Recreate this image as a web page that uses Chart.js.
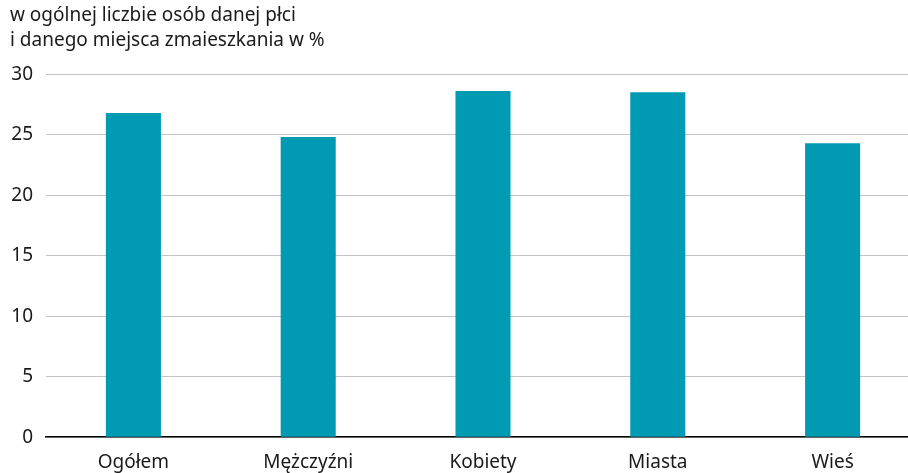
<!DOCTYPE html>
<html>
<head>
<meta charset="utf-8">
<script src="https://cdn.jsdelivr.net/npm/chart.js@4"></script>
<style>
  html, body { margin: 0; padding: 0; background: #fff; overflow: hidden; }
  #wrap { width: 922px; height: 473px; }
</style>
</head>
<body>
<div id="wrap"><canvas id="myChart"></canvas></div>
<script>
const kategorie = ["Ogółem", "Mężczyźni", "Kobiety", "Miasta", "Wieś"];
const udzial = [26.8, 24.8, 28.6, 28.5, 24.3];
const tytul = ["w ogólnej liczbie osób danej płci", "i danego miejsca zmaieszkania w %"];

const ctx = document.getElementById("myChart").getContext("2d");
new Chart(ctx, {
  type: "bar",
  data: {
    labels: kategorie,
    datasets: [
      {
        label: "udział",
        data: udzial,
        backgroundColor: "#009bb3",
        barPercentage: 0.315,
        categoryPercentage: 1,
      },
    ],
  },
  options: {
    responsive: true,
    maintainAspectRatio: false,
    animation: false,
    layout: { padding: { left: 10, right: 2, top: 3, bottom: -15 } },
    plugins: {
      legend: { display: false },
      tooltip: { enabled: false },
      title: {
        display: true,
        text: tytul,
        align: "start",
        color: "#1a1a1a",
        font: { family: "Noto Sans", size: 19, weight: "normal", lineHeight: 1.32 },
        padding: { top: 0, bottom: 21 },
      },
    },
    scales: {
      y: {
        min: 0,
        max: 30,
        afterFit(scale) {
          scale.width = 36;
        },
        ticks: {
          stepSize: 5,
          color: "#1a1a1a",
          font: { family: "Noto Sans", size: 19 },
          padding: 13,
        },
        grid: { color: "#c4c4c4", lineWidth: 1, drawTicks: false },
        border: { display: false },
      },
      x: {
        ticks: {
          color: "#1a1a1a",
          font: { family: "Noto Sans", size: 19 },
          padding: 14,
        },
        grid: { display: false, drawTicks: false },
        border: { display: true, color: "#000", width: 1.5 },
      },
    },
  },
});
</script>
</body>
</html>
